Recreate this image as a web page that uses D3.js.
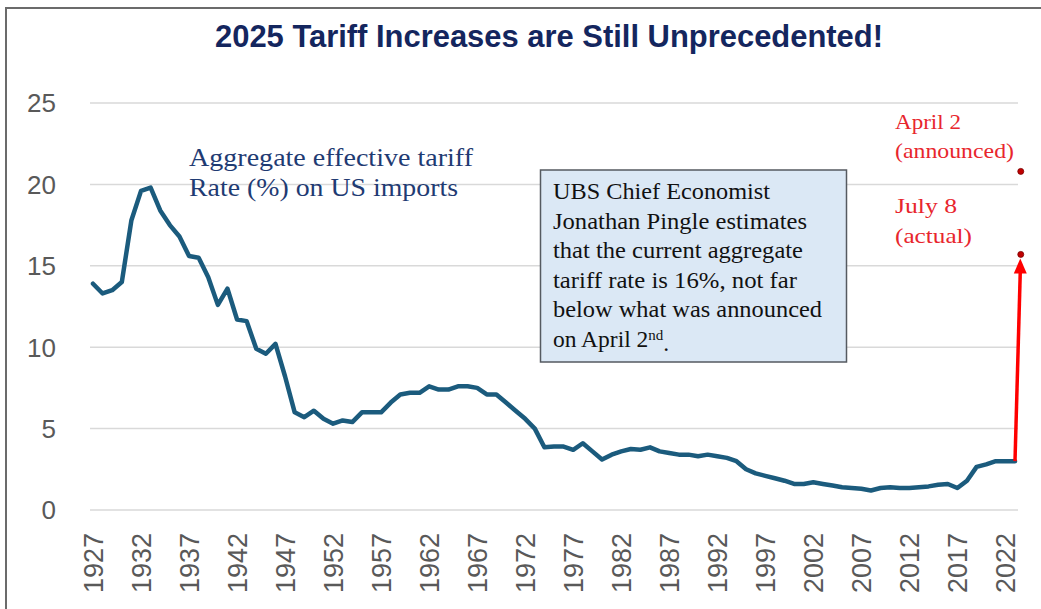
<!DOCTYPE html>
<html>
<head>
<meta charset="utf-8">
<script src="https://cdn.jsdelivr.net/npm/d3@7"></script>
<style>
  html, body { margin: 0; padding: 0; background: #fff; }
</style>
</head>
<body>
<div id="container"></div>
<script>
const startYear = 1927
const endYear = 2023

// aggregate effective tariff rate (%), 1927 - 2023
const tariffRate = [
  13.9, 13.3, 13.5, 14.0, 17.8, 19.6, 19.8, 18.4, 17.5, 16.8,
  15.6, 15.5, 14.3, 12.6, 13.6, 11.7, 11.6, 9.9, 9.6, 10.2,
  8.2, 6.0, 5.7, 6.1, 5.6, 5.3, 5.5, 5.4, 6.0, 6.0,
  6.0, 6.6, 7.1, 7.2, 7.2, 7.6, 7.4, 7.4, 7.6, 7.6,
  7.5, 7.1, 7.1, 6.6, 6.1, 5.6, 5.0, 3.85, 3.9, 3.9,
  3.7, 4.1, 3.6, 3.1, 3.4, 3.6, 3.75, 3.7, 3.85, 3.6,
  3.5, 3.4, 3.4, 3.3, 3.4, 3.3, 3.2, 3.0, 2.5, 2.25,
  2.1, 1.95, 1.8, 1.6, 1.6, 1.7, 1.6, 1.5, 1.4, 1.35,
  1.3, 1.2, 1.35, 1.4, 1.35, 1.35, 1.4, 1.45, 1.55, 1.6,
  1.35, 1.8, 2.65, 2.8, 3.0, 3.0, 3.0
]
const years = d3.range(startYear, endYear + 1)

const yTicks = [0, 5, 10, 15, 20, 25]
const xTickYears = [1927, 1932, 1937, 1942, 1947, 1952, 1957, 1962, 1967, 1972,
  1977, 1982, 1987, 1992, 1997, 2002, 2007, 2012, 2017, 2022]

// 2025 points, drawn just right of the last year
const markYear = 2023.6
const aprilRate = 20.8
const julyRate = 15.7

const titleText = '2025 Tariff Increases are Still Unprecedented!'
const seriesNote = ['Aggregate effective tariff', 'Rate (%) on US imports']
const boxLines = [
  'UBS Chief Economist',
  'Jonathan Pingle estimates',
  'that the current aggregate',
  'tariff rate is 16%, not far',
  'below what was announced'
]
const redLabels = ['April 2', '(announced)', 'July 8', '(actual)']

const width = 1041
const height = 609

const svg = d3.select('#container')
  .append('svg')
  .attr('width', width)
  .attr('height', height)
  .attr('viewBox', [0, 0, width, height])

const x = d3.scaleLinear()
  .domain([startYear, endYear])
  .range([93, 1015])

const y = d3.scaleLinear()
  .domain([0, 25])
  .range([510, 103])

const serif = 'Liberation Serif, Times New Roman, serif'
const sans = 'Liberation Sans, Arial, sans-serif'

// frame
svg.append('path')
  .attr('d', 'M6,609 V8 H1041')
  .style('fill', 'none')
  .style('stroke', '#6b6b6b')
  .style('stroke-width', 2)

// title
svg.append('text')
  .attr('x', 549)
  .attr('y', 47)
  .attr('text-anchor', 'middle')
  .attr('textLength', 668)
  .attr('lengthAdjust', 'spacingAndGlyphs')
  .style('font-family', sans)
  .style('font-weight', 'bold')
  .style('font-size', '32px')
  .style('fill', '#14265e')
  .text(titleText)

// gridlines
svg.append('g')
  .selectAll('line')
  .data(yTicks)
  .join('line')
  .attr('x1', 90)
  .attr('x2', 1018)
  .attr('y1', d => y(d))
  .attr('y2', d => y(d))
  .style('stroke', '#d9d9d9')
  .style('stroke-width', 1.5)

// y labels
svg.append('g')
  .selectAll('text')
  .data(yTicks)
  .join('text')
  .attr('x', 56)
  .attr('y', d => y(d))
  .attr('dy', '0.36em')
  .attr('text-anchor', 'end')
  .style('font-family', sans)
  .style('font-size', '26px')
  .style('fill', '#595959')
  .text(d => d)

// x labels
svg.append('g')
  .selectAll('text')
  .data(xTickYears)
  .join('text')
  .attr('transform', d => `translate(${ x(d) },533) rotate(-90)`)
  .attr('dy', '0.36em')
  .attr('text-anchor', 'end')
  .style('font-family', sans)
  .style('font-size', '27px')
  .style('fill', '#595959')
  .text(d => d)

// tariff line
const line = d3.line()
  .x((d, i) => x(years[i]))
  .y(d => y(d))

svg.append('path')
  .datum(tariffRate)
  .attr('d', line)
  .style('fill', 'none')
  .style('stroke', '#1b5b7d')
  .style('stroke-width', 4.5)
  .style('stroke-linejoin', 'round')
  .style('stroke-linecap', 'round')

// red arrow from last value up to July 8 level
const last = tariffRate[tariffRate.length - 1]
const ax0 = x(endYear), ay0 = y(last)
const ax1 = x(markYear - 0.05), ay1 = y(julyRate) + 4
const headLen = 15
svg.append('line')
  .attr('x1', ax0)
  .attr('y1', ay0)
  .attr('x2', ax1)
  .attr('y2', ay1 + headLen - 2)
  .style('stroke', '#ff0000')
  .style('stroke-width', 3.5)

svg.append('path')
  .attr('d', `M${ ax1 },${ ay1 } L${ ax1 - 6.5 },${ ay1 + headLen } L${ ax1 + 6.5 },${ ay1 + headLen } Z`)
  .style('fill', '#ff0000')

// 2025 dots
svg.append('g')
  .selectAll('circle')
  .data([aprilRate, julyRate])
  .join('circle')
  .attr('cx', x(markYear))
  .attr('cy', d => y(d))
  .attr('r', 3)
  .style('fill', '#c00000')
  .style('stroke', '#7a0000')
  .style('stroke-width', 0.8)

// red labels
const redY = [129, 158, 213, 243]
const redW = [66, 119, 62, 77]
svg.append('g')
  .selectAll('text')
  .data(redLabels)
  .join('text')
  .attr('x', 895)
  .attr('y', (d, i) => redY[i])
  .attr('textLength', (d, i) => redW[i])
  .attr('lengthAdjust', 'spacingAndGlyphs')
  .style('font-family', serif)
  .style('font-size', '22px')
  .style('fill', '#e8262d')
  .text(d => d)

// series note
const noteW = [284, 269]
svg.append('g')
  .selectAll('text')
  .data(seriesNote)
  .join('text')
  .attr('x', 189)
  .attr('y', (d, i) => 166 + i * 30)
  .attr('textLength', (d, i) => noteW[i])
  .attr('lengthAdjust', 'spacingAndGlyphs')
  .style('font-family', serif)
  .style('font-size', '26px')
  .style('fill', '#1f3b73')
  .text(d => d)

// annotation box
svg.append('rect')
  .attr('x', 540.5)
  .attr('y', 170)
  .attr('width', 306)
  .attr('height', 192)
  .style('fill', '#dbe8f5')
  .style('stroke', '#555a60')
  .style('stroke-width', 1.5)

const boxW = [217, 254, 250, 244, 269]
svg.append('g')
  .selectAll('text')
  .data(boxLines)
  .join('text')
  .attr('x', 553)
  .attr('y', (d, i) => 199 + i * 29.6)
  .attr('textLength', (d, i) => boxW[i])
  .attr('lengthAdjust', 'spacingAndGlyphs')
  .style('font-family', serif)
  .style('font-size', '23.5px')
  .style('fill', '#111')
  .text(d => d)

const lastLine = svg.append('text')
  .attr('x', 553)
  .attr('y', 199 + 5 * 29.6)
  .style('font-family', serif)
  .style('font-size', '23.5px')
  .style('fill', '#111')
lastLine.append('tspan').text('on April 2')
lastLine.append('tspan')
  .attr('dy', '-0.5em')
  .style('font-size', '15px')
  .text('nd')
lastLine.append('tspan')
  .attr('dy', '0.5em')
  .text('.')
</script>
</body>
</html>
